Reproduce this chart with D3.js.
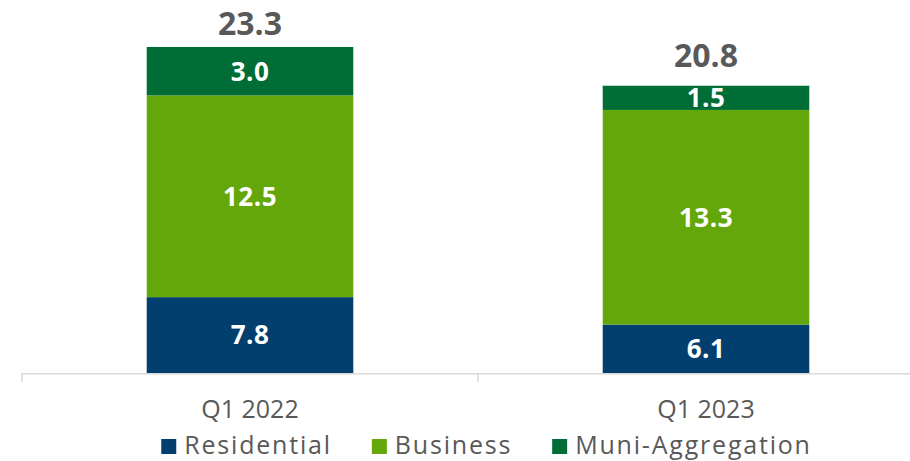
<!DOCTYPE html>
<html><head><meta charset="utf-8">
<script src="https://cdn.jsdelivr.net/npm/d3@7"></script>
<style>html,body{margin:0;padding:0;background:#fff;}svg{display:block;}</style>
</head><body>
<svg id="chart" width="910" height="461"></svg>
<script>
const categories = ["Q1 2022", "Q1 2023"];
const seriesNames = ["Residential", "Business", "Muni-Aggregation"];
const residential = [7.8, 6.1];
const business = [12.5, 13.3];
const muni = [3.0, 1.5];
const totals = [23.3, 20.8];
const colors = ["#023F6E", "#64A70B", "#006D36"];

const svg = d3.select("#chart");
const font = "'Open Sans', sans-serif";
const gray = "#595959";

const rows = categories.map((c, i) => ({cat: c, Residential: residential[i], Business: business[i], "Muni-Aggregation": muni[i], total: totals[i]}));
const stack = d3.stack().keys(seriesNames)(rows);

const x = d3.scaleBand().domain(categories).range([22, 934]).padding(0);
const barW = x.bandwidth() * 0.453;
const y = d3.scaleLinear().domain([3.1, 23.3]).range([373, 47]).clamp(true);
const yTot = d3.scaleLinear().domain([20.8, 23.3]).range([66.7, 35]);

// bars
const g = svg.append("g");
stack.forEach((s, si) => {
  g.selectAll(null).data(s).enter().append("rect")
    .attr("x", d => x(d.data.cat) + x.bandwidth() / 2 - barW / 2)
    .attr("width", barW)
    .attr("y", d => y(d[1]))
    .attr("height", d => y(d[0]) - y(d[1]))
    .attr("fill", colors[si]);
  g.selectAll(null).data(s).enter().append("text")
    .attr("x", d => x(d.data.cat) + x.bandwidth() / 2)
    .attr("y", d => (y(d[0]) + y(d[1])) / 2)
    .attr("dy", "0.36em")
    .attr("text-anchor", "middle")
    .attr("font-family", font).attr("font-weight", 700).attr("font-size", 26)
    .attr("letter-spacing", 0.5)
    .attr("fill", "#fff")
    .text(d => (d[1] - d[0]).toFixed(1));
});

// totals
svg.selectAll(null).data(rows).enter().append("text")
  .attr("x", d => x(d.cat) + x.bandwidth() / 2)
  .attr("y", d => yTot(d.total))
  .attr("text-anchor", "middle")
  .attr("font-family", font).attr("font-weight", 700).attr("font-size", 32)
  .attr("fill", gray)
  .text(d => d.total.toFixed(1));

// x axis
const ax = svg.append("g").attr("transform", "translate(0,373.75)")
  .call(d3.axisBottom(x).tickSize(0).tickPadding(26));
ax.select(".domain").attr("stroke", "#D9D9D9").attr("stroke-width", 1.5).attr("d", "M22,0H910");
ax.selectAll("text").attr("font-family", font).attr("font-size", 25).attr("letter-spacing", 0).attr("fill", gray);
// band boundary ticks
svg.append("g").selectAll("line").data(categories).enter().append("line")
  .attr("x1", d => x(d)).attr("x2", d => x(d))
  .attr("y1", 373).attr("y2", 382)
  .attr("stroke", "#D9D9D9").attr("stroke-width", 1.5);

// legend
const leg = svg.append("g");
const items = leg.selectAll("g").data(seriesNames).enter().append("g");
items.append("rect").attr("width", 15).attr("height", 15).attr("y", 439).attr("fill", (d, i) => colors[i]);
items.append("text").attr("x", 23).attr("y", 454)
  .attr("font-family", font).attr("font-size", 25).attr("letter-spacing", 1.8).attr("fill", gray)
  .text(d => d);
const widths = [];
items.each(function () { widths.push(this.getBBox().width); });
const gap = 40;
const total = d3.sum(widths) + gap * (widths.length - 1);
let start = 486.5 - total / 2;
items.attr("transform", (d, i) => { const t = `translate(${start},0)`; start += widths[i] + gap; return t; });
</script>
</body></html>
